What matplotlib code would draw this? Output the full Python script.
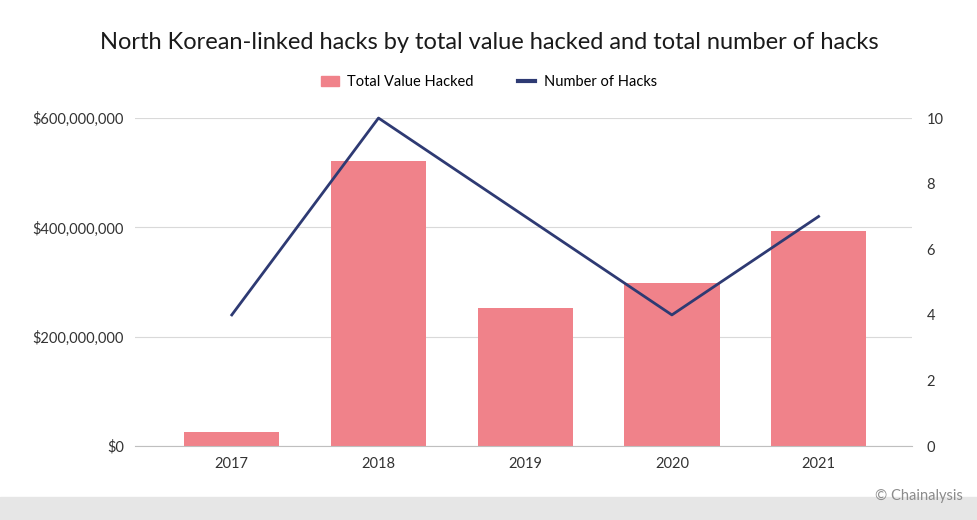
import matplotlib.pyplot as plt
from matplotlib.ticker import FuncFormatter
from matplotlib.lines import Line2D
from matplotlib.patches import Patch, Rectangle

plt.rcParams['font.family'] = ['Lato', 'DejaVu Sans']

years = ["2017", "2018", "2019", "2020", "2021"]
value_hacked = [26e6, 521e6, 252e6, 298e6, 393e6]
num_hacks = [4, 10, 7, 4, 7]

bar_color = "#f0828a"
line_color = "#2e3a73"

fig = plt.figure(figsize=(9.78, 5.2), dpi=100)
ax = fig.add_axes([0.138, 0.142, 0.795, 0.631])
x = range(len(years))
ax.bar(x, value_hacked, width=0.65, color=bar_color, zorder=2)
ax.set_xlim(-0.66, 4.64)
ax.set_ylim(0, 600e6)
ax.set_yticks([0, 200e6, 400e6, 600e6])
ax.yaxis.set_major_formatter(FuncFormatter(lambda v, p: f"${v:,.0f}"))
ax.set_xticks(list(x))
ax.set_xticklabels(years)
ax.grid(axis='y', color='#d9d9d9', linewidth=0.8, zorder=0)
for s in ['top', 'right', 'left']:
    ax.spines[s].set_visible(False)
ax.spines['bottom'].set_color('#bfbfbf')
ax.tick_params(axis='both', length=0, labelsize=10.5, colors='#333333', pad=8)

ax2 = ax.twinx()
ax2.plot(list(x), num_hacks, color=line_color, linewidth=2, clip_on=False, zorder=3)
ax2.set_ylim(0, 10)
ax2.set_yticks([0, 2, 4, 6, 8, 10])
for s in ['top', 'right', 'left', 'bottom']:
    ax2.spines[s].set_visible(False)
ax2.tick_params(axis='y', length=0, labelsize=10.5, colors='#333333', pad=10)

fig.text(0.5, 0.918, "North Korean-linked hacks by total value hacked and total number of hacks",
         ha='center', va='center', fontsize=17, color='#1a1a1a')
handles = [Patch(color=bar_color), Line2D([0], [0], color=line_color, linewidth=3)]
fig.legend(handles, ["Total Value Hacked", "Number of Hacks"], loc='center',
           bbox_to_anchor=(0.5, 0.842), ncol=2, frameon=False, fontsize=10.5,
           handlelength=1.2, columnspacing=3, handletextpad=0.6)

fig.patches.append(Rectangle((0, 0), 1, 0.044, transform=fig.transFigure,
                             color='#e6e6e6', zorder=0))
fig.text(0.985, 0.046, "© Chainalysis", ha='right', va='center', fontsize=10.5, color='#8c8c8c')

fig.savefig("out.png", dpi=100)
